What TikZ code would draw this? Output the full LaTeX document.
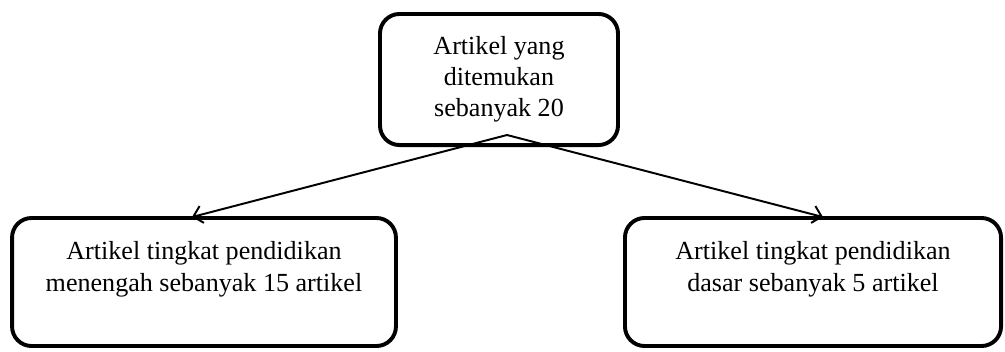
\documentclass[tikz,border=0pt]{standalone}
\usepackage{fontspec}
\setmainfont{Liberation Serif}
\usetikzlibrary{arrows.meta,calc}
\tikzset{
  kotak/.style={draw, line width=1.8pt, rounded corners=9pt, align=center, font=\fontsize{12}{14.3}\selectfont},
  panah/.style={-{Straight Barb[length=4pt,width=8pt]}, line width=0.9pt}
}

\begin{document}
\begin{tikzpicture}[x=0.46pt, y=-0.46pt]
                \useasboundingbox (0,0) rectangle (1005,351);

                % Kotak atas
                \node[kotak, minimum width=109.5pt, minimum height=60.3pt] (ditemukan) at (499,79.5) {Artikel yang\\ ditemukan\\ sebanyak 20};
                \coordinate (cabang) at (507,135);

                % Kotak kiri dan kanan
                \node[kotak, minimum width=176.6pt, minimum height=58.9pt] (menengah) at (204,282) {Artikel tingkat pendidikan\\ menengah sebanyak 15 artikel\\ \mbox{}};
                \node[kotak, minimum width=173pt, minimum height=58.9pt] (dasar) at (813,282) {Artikel tingkat pendidikan\\ dasar sebanyak 5 artikel\\ \mbox{}};

                % Panah
                \draw[panah] (cabang) -- ($(menengah.north)+(-12,1)$);
                \draw[panah] (cabang) -- ($(dasar.north)+(10,1)$);
            \end{tikzpicture}
\end{document}
